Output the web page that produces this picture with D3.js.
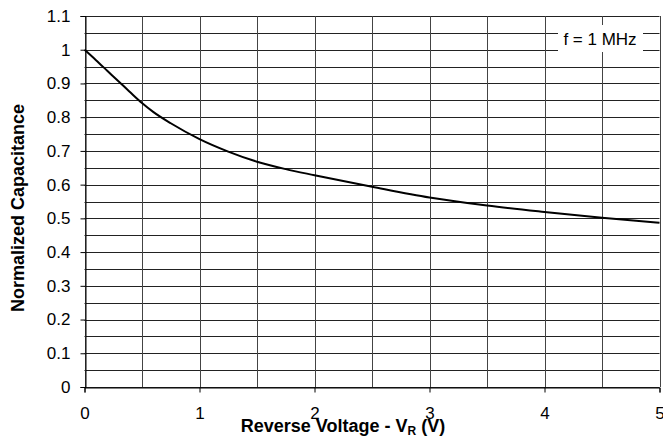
<!DOCTYPE html>
<html><head><meta charset="utf-8">
<script src="https://cdn.jsdelivr.net/npm/d3@7"></script>
<style>body{margin:0;background:#fff}svg{display:block}svg text{font-family:Arial,"Liberation Sans",sans-serif}</style>
</head><body>
<svg id="c" width="663" height="438"></svg>
<script>
const voltage = [0, 0.1, 0.2, 0.3, 0.4, 0.5, 0.6, 0.75, 1, 1.25, 1.5, 1.75, 2, 2.5, 3, 3.5, 4, 4.5, 5];
const capacitance = [1.0, 0.969, 0.937, 0.905, 0.873, 0.842, 0.815, 0.782, 0.735, 0.698, 0.668, 0.646, 0.628, 0.594, 0.562, 0.538, 0.519, 0.502, 0.487];
const xTicks = [0, 1, 2, 3, 4, 5];
const yTicks = [0, 0.1, 0.2, 0.3, 0.4, 0.5, 0.6, 0.7, 0.8, 0.9, 1, 1.1];
const xGrid = [0, 0.5, 1, 1.5, 2, 2.5, 3, 3.5, 4, 4.5, 5];
const yGrid = d3.range(0, 23).map(i => +(i * 0.05).toFixed(2));
const legendText = "f = 1 MHz";

const FONT = 'Arial, "Liberation Sans", sans-serif';
const svg = d3.select("#c");
const L = 84.5, R = 659.5, T = 16, B = 387;
const x = d3.scaleLinear().domain([0, 5]).range([L, R]);
const y = d3.scaleLinear().domain([0, 1.1]).range([B, T]);

const g = svg.append("g");
g.selectAll(".hg").data(yGrid).join("line")
  .attr("x1", L).attr("x2", R)
  .attr("y1", d => Math.round(y(d)) + 0.5).attr("y2", d => Math.round(y(d)) + 0.5)
  .attr("stroke", "#222").attr("stroke-width", 1);
g.selectAll(".vg").data(xGrid).join("line")
  .attr("y1", T).attr("y2", B)
  .attr("x1", d => Math.round(x(d)) + 0.5).attr("x2", d => Math.round(x(d)) + 0.5)
  .attr("stroke", "#444").attr("stroke-width", 1);

const xa = svg.append("g").attr("transform", `translate(0,${Math.round(B)+0.5})`)
  .call(d3.axisBottom(x).tickValues(xTicks).tickSize(5).tickPadding(14).tickFormat(d3.format("d")));
const ya = svg.append("g").attr("transform", `translate(${Math.round(L)+0.5},0)`)
  .call(d3.axisLeft(y).tickValues(yTicks).tickSize(5).tickPadding(10).tickFormat(d => d === 0 ? "0" : d === 1 ? "1" : d3.format(".1f")(d)));
[xa, ya].forEach(a => {
  a.attr("font-family", FONT);
  a.select(".domain").attr("stroke", "#000");
  a.selectAll(".tick line").attr("stroke", "#000");
  a.selectAll(".tick text").attr("font-size", 17).attr("fill", "#000").attr("font-family", FONT);
});

const line = d3.line().x((d, i) => x(voltage[i])).y(d => y(d)).curve(d3.curveMonotoneX);
svg.append("path").attr("d", line(capacitance)).attr("fill", "none").attr("stroke", "#000").attr("stroke-width", 2);

svg.append("rect").attr("x", 558).attr("y", 25).attr("width", 85).attr("height", 27).attr("fill", "#fff");
svg.append("text").attr("x", 600).attr("y", 45).attr("text-anchor", "middle").attr("font-size", 17)
  .attr("font-family", FONT).text(legendText);

const xt = svg.append("text").attr("x", 343).attr("y", 432).attr("text-anchor", "middle")
  .attr("font-size", 18).attr("font-weight", "bold").attr("font-family", FONT);
xt.append("tspan").text("Reverse Voltage - V");
xt.append("tspan").attr("font-size", 12).attr("dy", 3).text("R");
xt.append("tspan").attr("dy", -3).text(" (V)");

svg.append("text").attr("transform", "translate(24,208) rotate(-90)").attr("text-anchor", "middle")
  .attr("font-size", 18).attr("font-weight", "bold").attr("font-family", FONT).text("Normalized Capacitance");
</script>
</body></html>
